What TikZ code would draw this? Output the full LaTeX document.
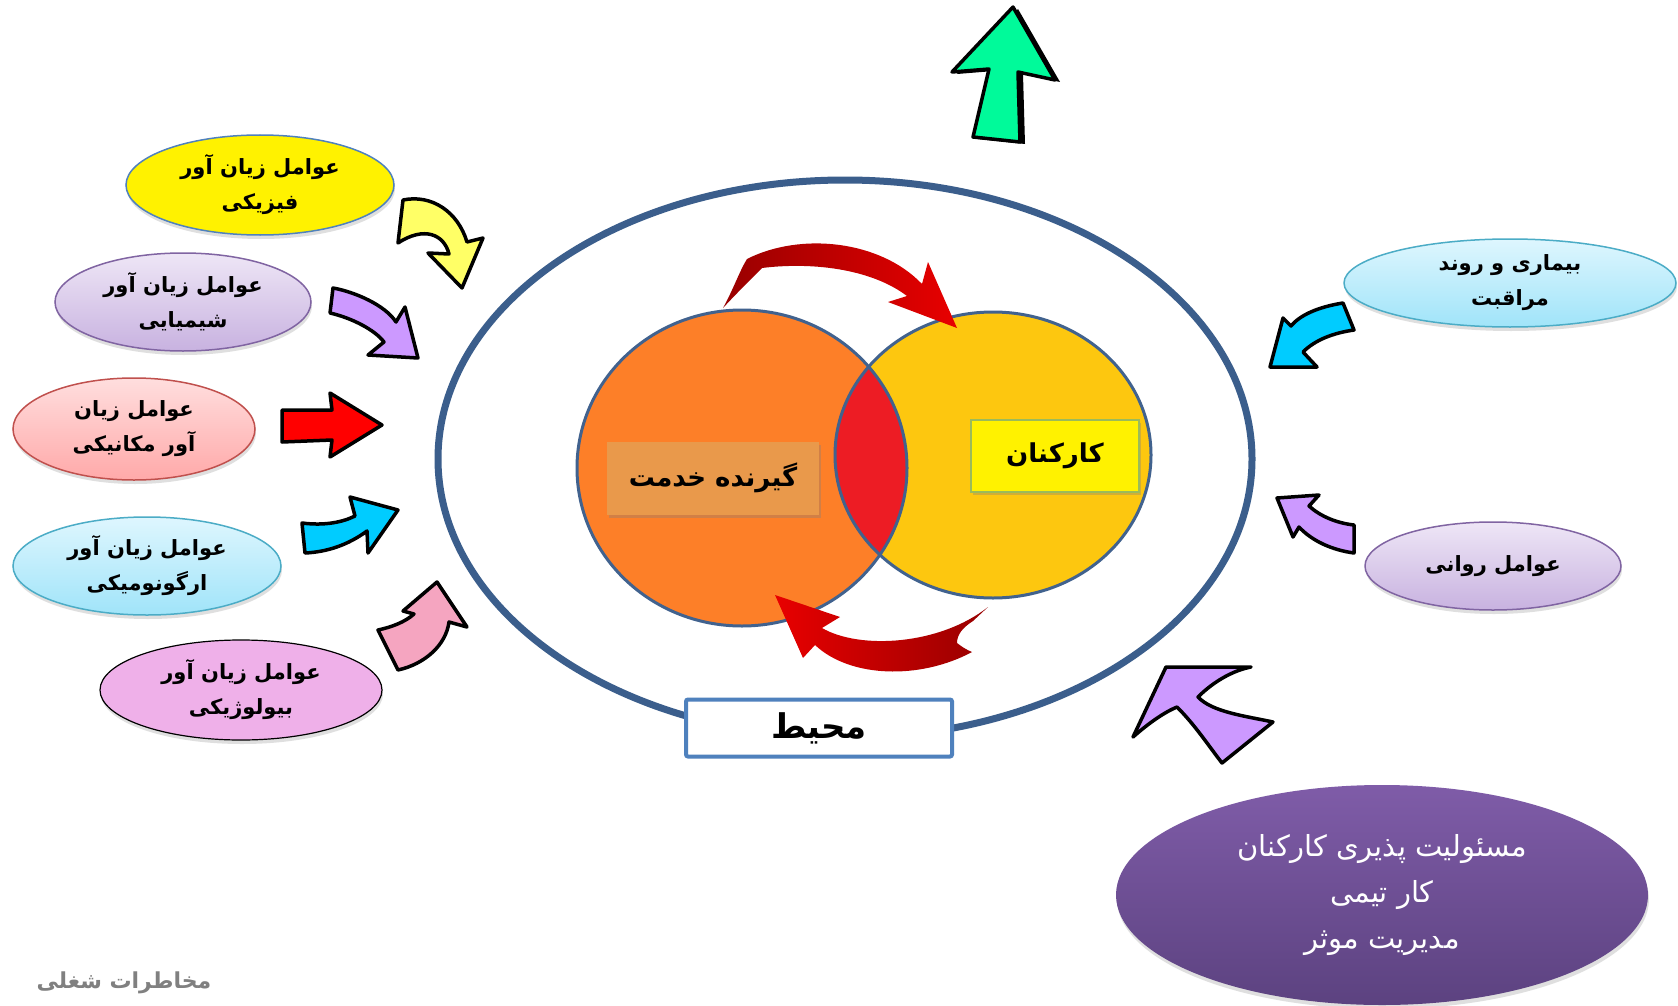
\documentclass[tikz,border=0pt]{standalone}
\usepackage{fontspec}
\newfontfamily\fa[Script=Arabic]{DejaVu Sans}
\TeXXeTstate=1
\usetikzlibrary{shapes.geometric,shadows}

\definecolor{rimblue}{HTML}{3B5E8C}
\definecolor{ringblue}{HTML}{41628E}
\definecolor{edgeblue}{HTML}{4F81BD}
\definecolor{clientorange}{HTML}{FD7F28}
\definecolor{staffgold}{HTML}{FDC70F}
\definecolor{lensred}{HTML}{ED1C24}
\definecolor{boxtan}{HTML}{E9994B}
\definecolor{boxgreen}{HTML}{9BBB59}
\definecolor{darkred}{HTML}{980000}
\definecolor{brightred}{HTML}{E80000}
\definecolor{lavtop}{HTML}{EEE6F6}
\definecolor{lavbot}{HTML}{C8B2E0}
\definecolor{lavedge}{HTML}{8064A2}
\definecolor{pinktop}{HTML}{FFDEDE}
\definecolor{pinkbot}{HTML}{FFA9A9}
\definecolor{pinkedge}{HTML}{C0504D}
\definecolor{skytop}{HTML}{DEF6FE}
\definecolor{skybot}{HTML}{A0E4F9}
\definecolor{skyedge}{HTML}{4BACC6}
\definecolor{orchid}{HTML}{EFB0E9}
\definecolor{purtop}{HTML}{7F5CA8}
\definecolor{purbot}{HTML}{5C4280}
\definecolor{arrowyellow}{HTML}{FFFF66}
\definecolor{arrowlav}{HTML}{CC99FF}
\definecolor{arrowcyan}{HTML}{00CCFF}
\definecolor{arrowpink}{HTML}{F5A5C0}
\definecolor{arrowgreen}{HTML}{00FA9A}

\newcommand\rl[1]{\beginR#1\endR}

\tikzset{hazard/.style = {ellipse, inner sep = 0, align = center,
          font = \fa\bfseries\fontsize{21}{35}\selectfont,
          drop shadow = {shadow xshift = 1pt, shadow yshift = -4pt, opacity = .25}}}
\tikzset{labelbox/.style = {rectangle, inner sep = 0, font = \fa\bfseries\fontsize{26}{32}\selectfont,
          drop shadow = {shadow xshift = 2pt, shadow yshift = -3pt, opacity = .35}}}
\tikzset{blockarrow/.style = {draw = black, line width = 3.5pt, line join = round}}

\begin{document}
\begin{tikzpicture}[x = 1pt, y = -1pt]
    \fill[white] (0,0) rectangle (1678,1006);
    \useasboundingbox (0,0) rectangle (1678,1006);

    % environment ring
    \draw[rimblue, line width = 7pt] (845,459) ellipse [x radius = 407pt, y radius = 279pt];

    % the two circles and their overlap
    \fill[staffgold] (993,455) ellipse [x radius = 158pt, y radius = 143pt];
    \fill[clientorange] (742,468) ellipse [x radius = 165pt, y radius = 158pt];
    \begin{scope}
      \clip (742,468) ellipse [x radius = 165pt, y radius = 158pt];
      \fill[lensred] (993,455) ellipse [x radius = 158pt, y radius = 143pt];
    \end{scope}
    \draw[ringblue, line width = 3pt] (993,455) ellipse [x radius = 158pt, y radius = 143pt];
    \draw[ringblue, line width = 3pt] (742,468) ellipse [x radius = 165pt, y radius = 158pt];

    \node[labelbox, fill = boxtan, minimum width = 212pt, minimum height = 73pt] (client) at (713,478) {\rl{گیرنده خدمت}};
    \node[labelbox, fill = yellow, draw = boxgreen, line width = 2pt, minimum width = 168pt, minimum height = 72pt] (staff) at (1055,456) {\rl{کارکنان}};
    \node[rectangle, fill = white, draw = edgeblue, line width = 4pt, rounded corners = 2pt, minimum width = 266pt, minimum height = 57pt,
          font = \fa\bfseries\fontsize{34}{40}\selectfont] (env) at (819,728) {\rl{محیط}};

    % red exchange arrows
    \shade[left color = darkred, right color = brightred] (723,308) .. controls (733,290) and (740,270) .. (747,259)
        .. controls (800,232) and (880,240) .. (922,284) -- (928,262) -- (957,328) -- (888,302) -- (907,296)
        .. controls (870,268) and (810,262) .. (762,268) .. controls (750,280) and (735,295) .. (723,308) -- cycle;
    \shade[left color = brightred, right color = darkred] (775,595) -- (840,617) -- (822,628)
        .. controls (860,650) and (940,645) .. (988,607) -- (973,621) .. controls (962,628) and (957,635) .. (957,643)
        .. controls (962,647) and (967,650) .. (972,652) .. controls (920,680) and (850,678) .. (815,645) -- (803,658) -- cycle;

    % hazard ellipses
    \node[hazard, fill = yellow, draw = edgeblue, line width = 1.5pt, minimum width = 268pt, minimum height = 100pt] (phys) at (260,185)
        {\rl{عوامل زیان آور}\\\rl{فیزیکی}};
    \node[hazard, top color = lavtop, bottom color = lavbot, draw = lavedge, line width = 1.5pt, minimum width = 256pt, minimum height = 98pt] (chem) at (183,302)
        {\rl{عوامل زیان آور}\\\rl{شیمیایی}};
    \node[hazard, top color = pinktop, bottom color = pinkbot, draw = pinkedge, line width = 1.5pt, minimum width = 242pt, minimum height = 102pt] (mech) at (134,429)
        {\rl{عوامل زیان}\\\rl{آور مکانیکی}};
    \node[hazard, top color = skytop, bottom color = skybot, draw = skyedge, line width = 1.5pt, minimum width = 268pt, minimum height = 98pt] (ergo) at (147,566)
        {\rl{عوامل زیان آور}\\\rl{ارگونومیکی}};
    \node[hazard, fill = orchid, draw = black, line width = 1.2pt, minimum width = 282pt, minimum height = 100pt] (bio) at (241,690)
        {\rl{عوامل زیان آور}\\\rl{بیولوژیکی}};
    \node[hazard, top color = skytop, bottom color = skybot, draw = skyedge, line width = 1.5pt, minimum width = 332pt, minimum height = 88pt] (care) at (1510,283)
        {\rl{بیماری و روند}\\\rl{مراقبت}};
    \node[hazard, top color = lavtop, bottom color = lavbot, draw = lavedge, line width = 1.5pt, minimum width = 256pt, minimum height = 88pt] (psych) at (1493,566)
        {\rl{عوامل روانی}};
    \node[hazard, top color = purtop, bottom color = purbot, text = white, minimum width = 532pt, minimum height = 220pt,
          font = \fa\fontsize{29}{46}\selectfont] (mgmt) at (1382,895)
        {\rl{مسئولیت پذیری کارکنان}\\\rl{کار تیمی}\\\rl{مدیریت موثر}};

    % block arrows
    \filldraw[blockarrow, fill = arrowyellow] (403,200) .. controls (432,194) and (458,212) .. (467,242) -- (483,238) -- (462,288)
        -- (428,253) -- (449,254) .. controls (444,234) and (424,226) .. (398,243) -- cycle;
    \filldraw[blockarrow, fill = arrowlav] (333,288) .. controls (355,292) and (385,305) .. (396,322) -- (405,307) -- (418,358)
        -- (368,355) -- (384,342) .. controls (375,330) and (352,318) .. (330,313) -- cycle;
    \filldraw[blockarrow, fill = red] (282,410) -- (332,410) -- (330,393) -- (382,425) -- (330,457) -- (332,440) -- (282,442) -- cycle;
    \filldraw[blockarrow, fill = arrowcyan] (302,523) .. controls (325,526) and (343,522) .. (355,516) -- (350,497) -- (398,510)
        -- (368,553) -- (367,531) .. controls (348,545) and (327,552) .. (305,553) -- cycle;
    \filldraw[blockarrow, fill = arrowpink] (378,630) .. controls (392,627) and (405,622) .. (414,614) -- (403,611) -- (437,582)
        -- (467,627) -- (449,622) .. controls (446,645) and (425,664) .. (398,670) -- cycle;
    \filldraw[blockarrow, fill = arrowcyan] (1343,303) .. controls (1318,307) and (1300,315) .. (1291,326) -- (1283,318) -- (1270,367)
        -- (1317,367) -- (1303,352) .. controls (1315,340) and (1333,333) .. (1354,330) -- cycle;
    \filldraw[blockarrow, fill = arrowlav] (1354,525) .. controls (1336,523) and (1320,516) .. (1309,506) -- (1319,495) -- (1277,498)
        -- (1293,537) -- (1299,527) .. controls (1312,541) and (1332,550) .. (1354,553) -- cycle;
    \filldraw[blockarrow, fill = arrowlav] (1273,722) .. controls (1245,716) and (1212,712) .. (1198,697)
        .. controls (1215,680) and (1235,670) .. (1251,667) -- (1166,667) -- (1133,737)
        .. controls (1150,722) and (1165,712) .. (1177,707) .. controls (1195,725) and (1208,745) .. (1222,763) -- cycle;
    \fill[black] (1018,9) -- (1060,82) -- (1023,74) -- (1025,144) -- (978,139) -- (994,71) -- (957,74) -- cycle;
    \filldraw[blockarrow, fill = arrowgreen] (1013,7) -- (1055,80) -- (1018,72) -- (1020,142) -- (973,137) -- (989,69) -- (952,72) -- cycle;

    \node[text = gray, font = \fa\bfseries\fontsize{22}{26}\selectfont] (title) at (124,983) {\rl{مخاطرات شغلی}};
\end{tikzpicture}
\end{document}
